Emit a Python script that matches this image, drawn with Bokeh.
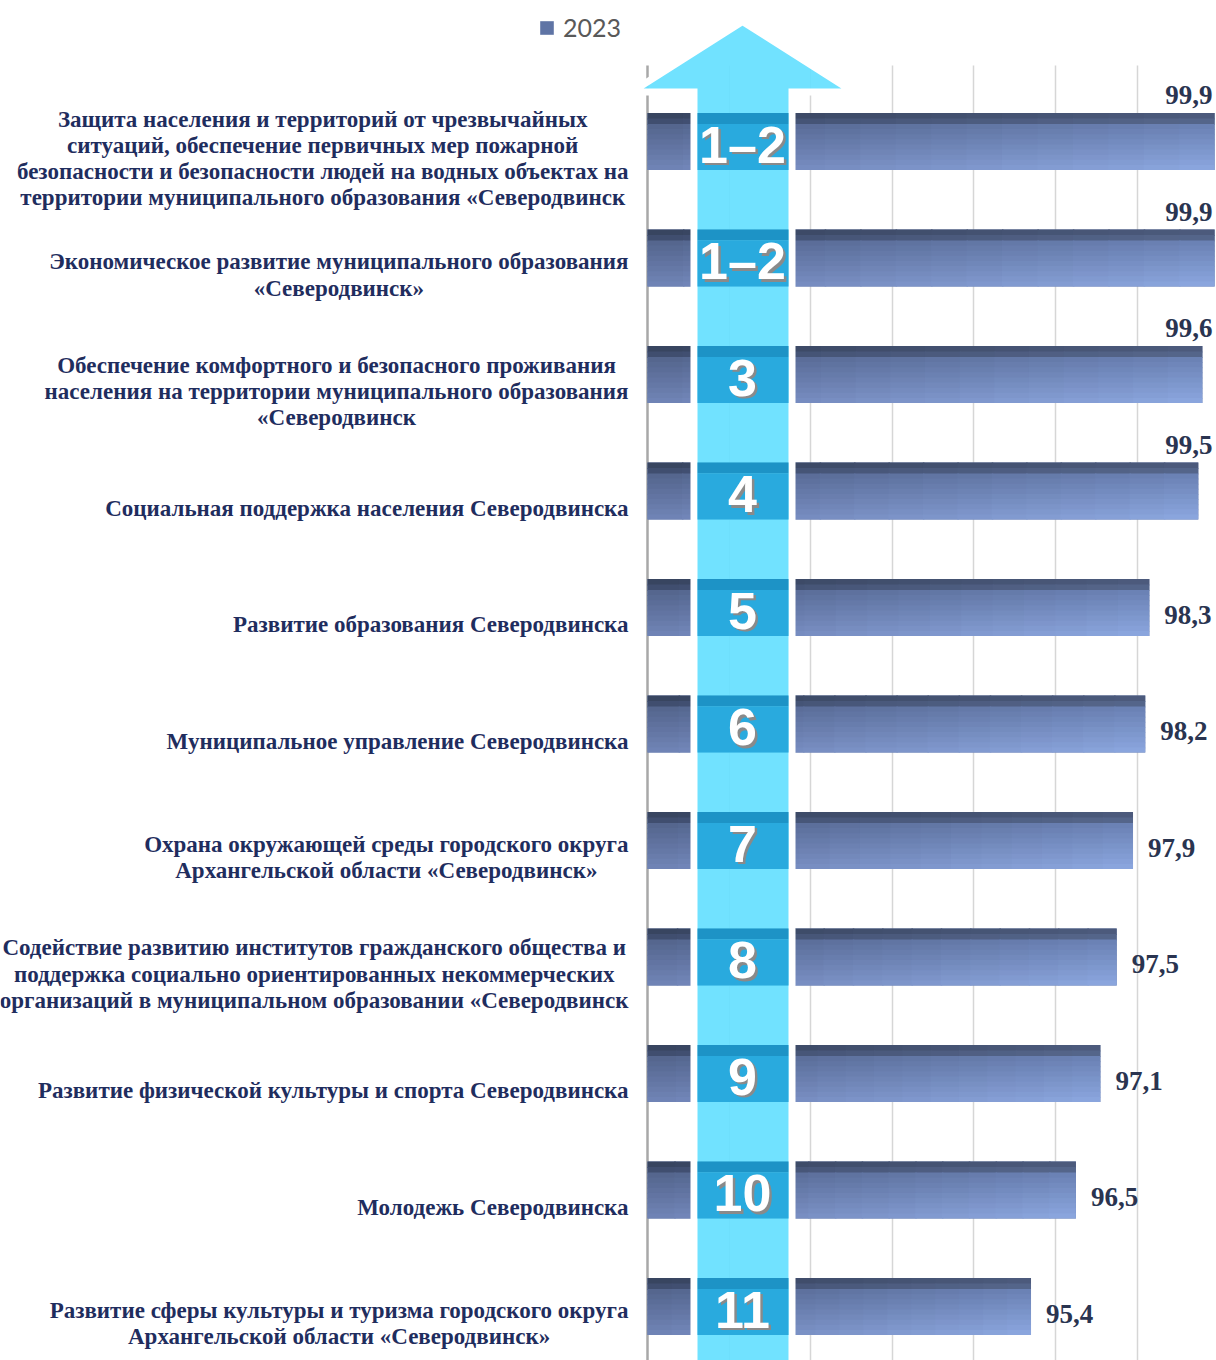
import glob
from bokeh.plotting import figure
from bokeh.models import Range1d, FixedTicker, ColumnDataSource, Legend, LegendItem, Grid
from bokeh.core.properties import value
from bokeh.embed import file_html
from bokeh.resources import INLINE

# ---------------- data ----------------
programs = [
    "Защита населения и территорий от чрезвычайных\nситуаций, обеспечение первичных мер пожарной\nбезопасности и безопасности людей на водных объектах на\nтерритории муниципального образования «Северодвинск",
    "Экономическое развитие муниципального образования\n«Северодвинск»",
    "Обеспечение комфортного и безопасного проживания\nнаселения на территории муниципального образования\n«Северодвинск",
    "Социальная поддержка населения Северодвинска",
    "Развитие образования Северодвинска",
    "Муниципальное управление Северодвинска",
    "Охрана окружающей среды городского округа\nАрхангельской области «Северодвинск»",
    "Содействие развитию институтов гражданского общества и\nподдержка социально ориентированных некоммерческих\nорганизаций в муниципальном образовании «Северодвинск",
    "Развитие физической культуры и спорта Северодвинска",
    "Молодежь Северодвинска",
    "Развитие сферы культуры и туризма городского округа\nАрхангельской области «Северодвинск»",
]
values = [99.9, 99.9, 99.6, 99.5, 98.3, 98.2, 97.9, 97.5, 97.1, 96.5, 95.4]
ranks = ["1–2", "1–2", "3", "4", "5", "6", "7", "8", "9", "10", "11"]
series_name = "2023"
x_ticks = [86, 88, 90, 92, 94, 96, 98, 100]

# ---------------- geometry helpers (reference pixels -> data) ----------------
W, H = 1216, 1360
BASE = x_ticks[0]
PXX = 40.8      # px per unit along x
PXY = 116.5     # px per category row


def dx(X):
    return BASE + (X - 647) / PXX


def dy(Y):
    return (Y - 141) / PXY


def hex2rgb(h):
    h = h.lstrip("#")
    return tuple(int(h[i:i + 2], 16) for i in (0, 2, 4))


def lerp(c1, c2, t):
    a, b = hex2rgb(c1), hex2rgb(c2)
    return "#%02x%02x%02x" % tuple(int(round(a[i] + (b[i] - a[i]) * t)) for i in range(3))


def bilerp(tl, tr, bl, br, th, tv):
    top = lerp(tl, tr, th)
    bot = lerp(bl, br, th)
    return lerp(top, bot, tv)


def text_width(s, size):
    try:
        from PIL import ImageFont
        paths = glob.glob("/usr/share/fonts/**/LiberationSerif-Bold.ttf", recursive=True)
        f = ImageFont.truetype(paths[0], size)
        return f.getlength(s)
    except Exception:
        return 0.5 * size * len(s)


n = len(values)
rows = list(range(n))
BH = 57 / PXY

p = figure(width=W, height=H,
           x_range=Range1d(dx(0), dx(W)),
           y_range=Range1d(dy(H), dy(0)),
           output_backend="svg", toolbar_location=None,
           x_axis_location=None, y_axis_location=None,
           min_border=0, outline_line_color=None,
           background_fill_color="white", border_fill_color="white")

# grid lines
p.ygrid.visible = False
p.xgrid.ticker = FixedTicker(ticks=x_ticks[1:])
p.xgrid.grid_line_color = "#D6D6D6"
p.xgrid.grid_line_width = 1.5
axis_grid = Grid(dimension=0, ticker=FixedTicker(ticks=[x_ticks[0]]),
                 grid_line_color="#A8A8A8", grid_line_width=2.5)
try:
    p.xgrid.cross_bounds = (dy(65), dy(1400))
    axis_grid.cross_bounds = (dy(65), dy(1400))
except Exception:
    pass
p.add_layout(axis_grid, "center")

# base bars (legend reference)
base = p.hbar(y=rows, left=BASE, right=values, height=BH,
              fill_color="#5F74A5", line_color=None)

# gradient shading for the 3D look
TS = 11 / 57
vb = [0, TS / 2, TS] + [TS + (1 - TS) * k / 9 for k in range(1, 10)]
NH = 16
ql, qr, qt, qb, qc = [], [], [], [], []
ovx = 1.5 / PXX
ovy = 1.0 / PXY
for i, v in enumerate(values):
    L = v - BASE
    top_edge = i - BH / 2
    for j in range(len(vb) - 1):
        tv0, tv1 = vb[j], vb[j + 1]
        tvm = (tv0 + tv1) / 2
        for k in range(NH):
            th = (k + 0.5) / NH
            if tv1 <= TS + 1e-9:
                c = bilerp("#333F58", "#485676", "#435275", "#5A6B92", th, tvm / TS)
            else:
                c = bilerp("#52638B", "#6A81B4", "#7084B6", "#8DA8E0", th, (tvm - TS) / (1 - TS))
            ql.append(BASE + L * k / NH)
            qr.append(BASE + L * (k + 1) / NH + (ovx if k < NH - 1 else 0))
            qt.append(top_edge + BH * tv0)
            qb.append(top_edge + BH * tv1 + (ovy if j < len(vb) - 2 else 0))
            qc.append(c)
p.quad(left=ql, right=qr, top=qt, bottom=qb, fill_color=qc, line_color=None)

# ranking arrow
ax = [dx(693.5), dx(693.5), dx(631), dx(742), dx(853), dx(791.5), dx(791.5)]
ay = [dy(1420), dy(91.5), dy(91.5), dy(21), dy(91.5), dy(91.5), dy(1420)]
p.patch(ax, ay, fill_color="#66E0FF", fill_alpha=0.93, line_color="white",
        line_width=7, line_join="miter")

# bar segments seen through the arrow shaft
sl, sr = dx(697), dx(788)
p.quad(left=sl, right=sr, top=[i - BH / 2 for i in rows], bottom=[i - BH / 2 + BH * TS for i in rows],
       fill_color="#1D93C6", line_color=None)
p.quad(left=sl, right=sr, top=[i - BH / 2 + BH * TS for i in rows], bottom=[i + BH / 2 for i in rows],
       fill_color="#29AADE", line_color=None)

# rank numbers
rx = dx(742)
p.text(x=[rx + 2.5 / PXX] * n, y=[i + 5.5 / PXY for i in rows], text=ranks,
       text_font=value("Liberation Sans"), text_font_style="bold", text_font_size="52px",
       text_color="#8A8A8A", text_align="center", text_baseline="middle")
p.text(x=[rx] * n, y=[i + 3 / PXY for i in rows], text=ranks,
       text_font=value("Liberation Sans"), text_font_style="bold", text_font_size="52px",
       text_color="white", text_align="center", text_baseline="middle")

# value labels
vlab = [("%.1f" % v).replace(".", ",") for v in values]
above = [v > 99.0 for v in values]
src_above = ColumnDataSource(dict(
    x=[dx(1212) for v, a in zip(values, above) if a],
    y=[i - BH / 2 - 18 / PXY for i, a in zip(rows, above) if a],
    t=[s for s, a in zip(vlab, above) if a]))
src_right = ColumnDataSource(dict(
    x=[v + 15 / PXX for v, a in zip(values, above) if not a],
    y=[i + 7 / PXY for i, a in zip(rows, above) if not a],
    t=[s for s, a in zip(vlab, above) if not a]))
for src, al in ((src_above, "right"), (src_right, "left")):
    p.text(x="x", y="y", text="t", source=src,
           text_font=value("Liberation Serif"), text_font_style="bold", text_font_size="27px",
           text_color="#2A3450", text_align=al, text_baseline="middle")

# category labels (centred multi-line blocks, right edge aligned)
LFS = 23
cx = []
for s in programs:
    wmax = max(text_width(line, LFS) for line in s.split("\n"))
    cx.append(dx(628 - wmax / 2))
p.text(x=cx, y=[i + 17 / PXY for i in rows], text=programs,
       text_font=value("Liberation Serif"), text_font_style="bold", text_font_size="%dpx" % LFS,
       text_color="#1F2D5E", text_align="center", text_baseline="middle", text_line_height=1.05)

# legend
legend = Legend(items=[LegendItem(label=series_name, renderers=[base])],
                location=(538, H - 42), orientation="horizontal",
                border_line_color=None, background_fill_alpha=0,
                padding=0, margin=0, glyph_width=17, glyph_height=17,
                label_text_font="Lato", label_text_font_size="25px",
                label_text_color="#595959", label_standoff=8)
p.add_layout(legend)

open("out.html", "w").write(file_html(p, INLINE))
